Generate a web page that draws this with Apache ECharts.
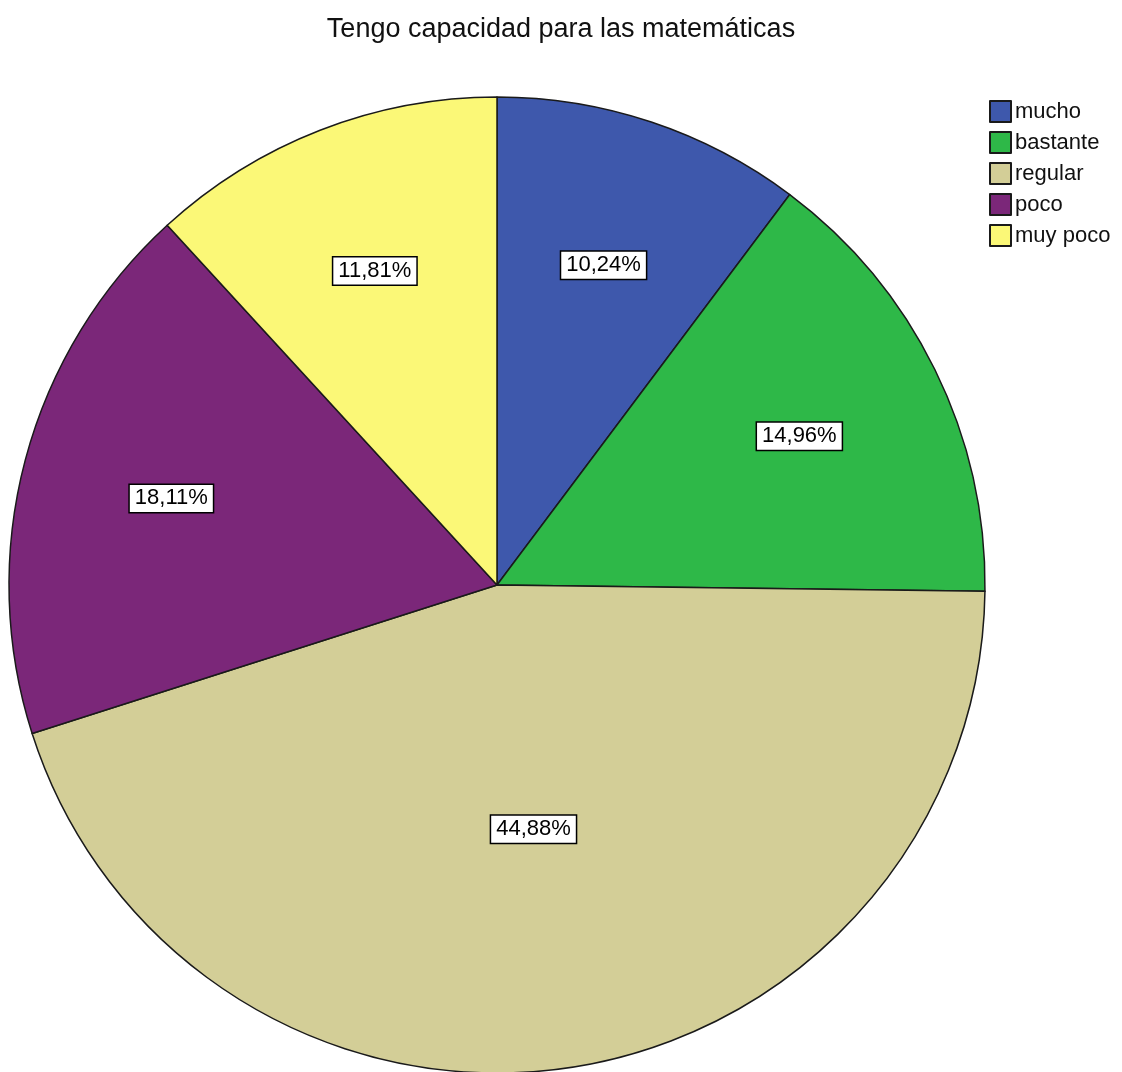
<!DOCTYPE html>
<html><head><meta charset="utf-8">
<script src="https://cdn.jsdelivr.net/npm/echarts@6/dist/echarts.min.js"></script>
<style>html,body{margin:0;padding:0;background:#fff}#c{width:1122px;height:1072px}</style>
</head><body><div id="c"></div>
<script>
const titleText = 'Tengo capacidad para las matemáticas';
const categories = ['mucho', 'bastante', 'regular', 'poco', 'muy poco'];
const values = [10.24, 14.96, 44.88, 18.11, 11.81];
const colors = ['#3E58AC', '#2EB848', '#D3CE97', '#7B2779', '#FBF877'];

const FONT = 'Liberation Sans, Arial, sans-serif';
const fmt = v => v.toFixed(2).replace('.', ',') + '%';
const labelBox = {
  formatter: p => fmt(p.value),
  color: '#000', fontFamily: FONT, fontSize: 22,
  backgroundColor: '#fff', borderColor: '#000', borderWidth: 1.5,
  padding: [4, 5, 1, 5]
};
const bigIdx = values.indexOf(Math.max(...values));

const chart = echarts.init(document.getElementById('c'), null, {renderer: 'canvas'});
chart.setOption({
  animation: false,
  color: colors,
  title: {
    text: titleText, left: 'center', top: 11,
    textStyle: {fontFamily: FONT, fontSize: 27, fontWeight: 'normal', color: '#111'}
  },
  legend: {
    orient: 'vertical', left: 984, top: 95,
    itemWidth: 21, itemHeight: 21, itemGap: 8, icon: 'rect',
    textStyle: {fontFamily: FONT, fontSize: 22, color: '#111', padding: [0, 0, 0, -1]},
    data: categories
  },
  series: [
    {
      type: 'pie', center: [497, 585], radius: 488, startAngle: 90, clockwise: true,
      silent: true,
      itemStyle: {borderColor: '#1a1a1a', borderWidth: 1.5},
      label: Object.assign({show: true, position: 'inside'}, labelBox),
      labelLine: {show: false},
      data: categories.map((c, i) => ({
        name: c, value: values[i],
        label: {show: i === bigIdx}
      }))
    },
    {
      type: 'pie', center: [497, 585], radius: [180, 488],
      startAngle: 90, clockwise: true, silent: true, legendHoverLink: false,
      itemStyle: {color: 'rgba(0,0,0,0)', borderWidth: 0},
      label: Object.assign({show: true, position: 'inside'}, labelBox),
      labelLine: {show: false},
      data: categories.map((c, i) => ({
        name: c + ' ', value: values[i],
        label: {show: i !== bigIdx}
      }))
    }
  ]
});
</script></body></html>
